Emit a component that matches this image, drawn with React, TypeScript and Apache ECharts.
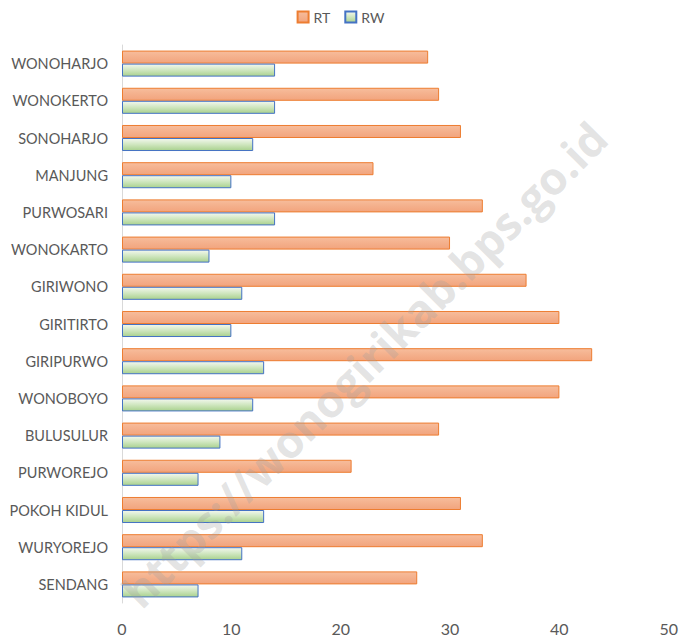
import React, { useEffect, useRef } from "react";
import * as echarts from "echarts";

const categories = [
  "WONOHARJO", "WONOKERTO", "SONOHARJO", "MANJUNG", "PURWOSARI",
  "WONOKARTO", "GIRIWONO", "GIRITIRTO", "GIRIPURWO", "WONOBOYO",
  "BULUSULUR", "PURWOREJO", "POKOH KIDUL", "WURYOREJO", "SENDANG",
];
const rtValues = [28, 29, 31, 23, 33, 30, 37, 40, 43, 40, 29, 21, 31, 33, 27];
const rwValues = [14, 14, 12, 10, 14, 8, 11, 10, 13, 12, 9, 7, 13, 11, 7];
const xTicks = [0, 10, 20, 30, 40, 50];

const FONT = "Lato, 'Open Sans', sans-serif";

export default function App() {
  const ref = useRef<HTMLDivElement>(null);
  useEffect(() => {
    document.body.style.margin = "0";
    if (!ref.current) return;
    const chart = echarts.init(ref.current, undefined, { renderer: "svg" });
    const rtFill = new echarts.graphic.LinearGradient(0, 0, 0, 1, [
      { offset: 0, color: "#f7bd9c" },
      { offset: 0.5, color: "#f4b08c" },
      { offset: 1, color: "#f2a47d" },
    ]);
    const rwFill = new echarts.graphic.LinearGradient(0, 0, 0, 1, [
      { offset: 0, color: "#f3f8ef" },
      { offset: 0.5, color: "#cfe6bf" },
      { offset: 1, color: "#a9d18e" },
    ]);
    chart.setOption({
      animation: false,
      backgroundColor: "#ffffff",
      textStyle: { fontFamily: FONT },
      legend: {
        top: 5,
        left: "center",
        icon: "rect",
        itemWidth: 11,
        itemHeight: 11,
        itemGap: 14,
        textStyle: { color: "#595959", fontSize: 14, fontFamily: FONT },
        data: ["RT", "RW"],
      },
      grid: { left: 122, right: 12, top: 45, bottom: 35, containLabel: false },
      xAxis: {
        type: "value",
        min: xTicks[0],
        max: xTicks[xTicks.length - 1],
        interval: 10,
        axisLine: { show: false },
        axisTick: { show: false },
        splitLine: { show: false },
        axisLabel: { color: "#595959", fontSize: 16, margin: 17, fontFamily: FONT },
      },
      yAxis: {
        type: "category",
        data: categories,
        inverse: true,
        axisLine: { show: true, lineStyle: { color: "#d9d9d9" } },
        axisTick: { show: false },
        axisLabel: { color: "#595959", fontSize: 14.5, margin: 14, fontFamily: FONT },
      },
      series: [
        {
          name: "RT",
          type: "bar",
          data: rtValues,
          barGap: "0%",
          barCategoryGap: "30%",
          itemStyle: { color: rtFill, borderColor: "#ed7d31", borderWidth: 1 },
        },
        {
          name: "RW",
          type: "bar",
          data: rwValues,
          itemStyle: { color: rwFill, borderColor: "#4472c4", borderWidth: 1 },
        },
      ],
      graphic: [
        {
          type: "text",
          x: 364,
          y: 364,
          rotation: Math.PI / 4,
          silent: true,
          z: 100,
          style: {
            text: "https://wonogirikab.bps.go.id",
            font: "bold 45px 'Open Sans', Lato, sans-serif",
            fill: "rgba(160,160,160,0.3)",
            align: "center",
            verticalAlign: "middle",
          },
        },
      ],
    });
    return () => chart.dispose();
  }, []);
  return <div ref={ref} style={{ width: 681, height: 638 }} />;
}
